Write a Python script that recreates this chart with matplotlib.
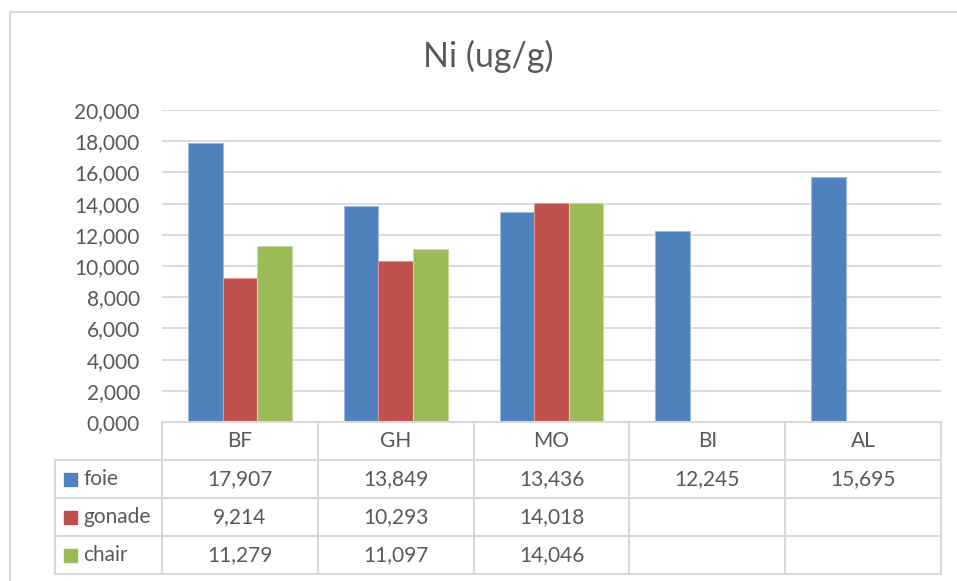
import numpy as np
import matplotlib
matplotlib.use("Agg")
import matplotlib.pyplot as plt
from matplotlib.patches import Rectangle

plt.rcParams["font.family"] = ["Lato", "DejaVu Sans"]

# Ni concentration (ug/g) by site and tissue
sites = ["BF", "GH", "MO", "BI", "AL"]
foie = [17.907, 13.849, 13.436, 12.245, 15.695]
gonade = [9.214, 10.293, 14.018, np.nan, np.nan]
chair = [11.279, 11.097, 14.046, np.nan, np.nan]

series_names = ["foie", "gonade", "chair"]
series_values = [foie, gonade, chair]
colors = ["#4F81BD", "#C0504D", "#9BBB59"]
edge_colors = ["#9DB9DD", "#DE9896", "#C6DAA0"]

y_ticks = np.arange(0, 21, 2)

W, H = 957, 581
TEXT = "#595959"
LINE = "#D9D9D9"


def fr(v):
    """Decimal comma, three places."""
    return f"{v:.3f}".replace(".", ",")


fig = plt.figure(figsize=(W / 100, H / 100), dpi=100)

# plot area in pixel coordinates
px_left, px_right, px_top, px_bottom = 162, 941, 110, 422
ax = fig.add_axes([px_left / W, 1 - px_bottom / H,
                   (px_right - px_left) / W, (px_bottom - px_top) / H])

n = len(sites)
x = np.arange(n)
bw = 0.222
for j, (vals, c, ec) in enumerate(zip(series_values, colors, edge_colors)):
    ax.bar(x + (j - 1) * bw, vals, width=bw, color=c, edgecolor=ec,
           linewidth=0.8, zorder=3)

ax.set_xlim(-0.5, n - 0.5)
ax.set_ylim(0, 20)
ax.set_yticks(y_ticks)
ax.set_yticklabels([fr(v) for v in y_ticks], fontsize=15, color=TEXT)
ax.set_xticks([])
ax.tick_params(axis="y", length=0, pad=16)
ax.grid(axis="y", color=LINE, linewidth=1.3, zorder=0)
for s in ax.spines.values():
    s.set_visible(False)

# overlay axes for the border, title and data table (pixel units)
ov = fig.add_axes([0, 0, 1, 1], facecolor="none")
ov.set_xlim(0, W)
ov.set_ylim(H, 0)
ov.axis("off")

ov.plot([9.5, W], [11.5, 11.5], color=LINE, lw=1.5)
ov.plot([9.5, 9.5], [11.5, H], color=LINE, lw=1.5)

ov.text((px_left + px_right) / 2 - 63, 56, "Ni (ug/g)", fontsize=24.5,
        color=TEXT, ha="center", va="center")

col_w = (px_right - px_left) / n
col_edges = [px_left + i * col_w for i in range(n + 1)]
row_h = 38
header_top = px_bottom
row_tops = [header_top + row_h * (k + 1) for k in range(len(series_names))]
table_bottom = header_top + row_h * (len(series_names) + 1)
label_left = 55

# grid lines of the table
ov.plot([px_left, px_right], [header_top, header_top], color=LINE, lw=1.5)
for yt in row_tops + [table_bottom]:
    ov.plot([label_left, px_right], [yt, yt], color=LINE, lw=1.5)
for xe in col_edges:
    ov.plot([xe, xe], [header_top, table_bottom], color=LINE, lw=1.5)
ov.plot([label_left, label_left], [row_tops[0], table_bottom], color=LINE, lw=1.5)

for i, s in enumerate(sites):
    ov.text(col_edges[i] + col_w / 2, header_top + row_h / 2, s,
            fontsize=15, color=TEXT, ha="center", va="center")

for k, (name, vals, c) in enumerate(zip(series_names, series_values, colors)):
    yc = row_tops[k] + row_h / 2
    ov.add_patch(Rectangle((64, yc - 6.5), 13, 13, color=c))
    ov.text(83, yc, name, fontsize=15, color=TEXT, ha="left", va="center")
    for i, v in enumerate(vals):
        if not np.isnan(v):
            ov.text(col_edges[i] + col_w / 2, yc, fr(v), fontsize=15,
                    color=TEXT, ha="center", va="center")

fig.savefig("out.png", dpi=100)
